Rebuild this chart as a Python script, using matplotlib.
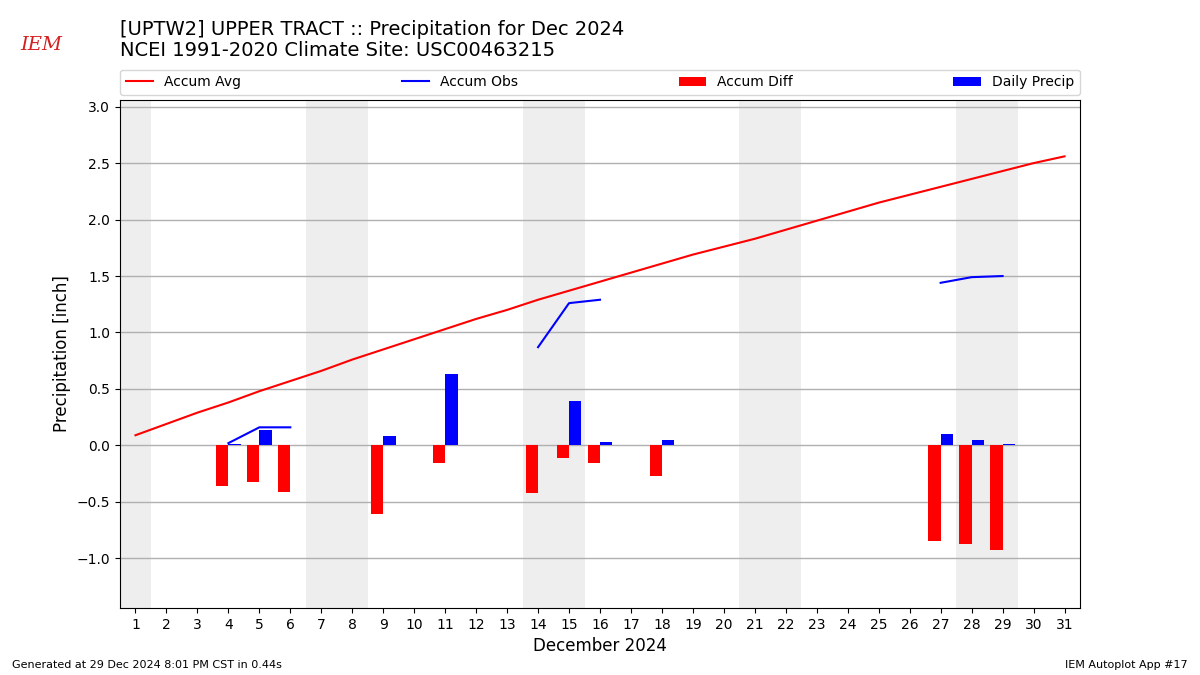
import numpy as np
import matplotlib
matplotlib.use("Agg")
import matplotlib.pyplot as plt

nan = np.nan

# Days of December 2024
days = np.arange(1, 32)

# Climatological accumulated precipitation (inch)
accum_avg = [0.09, 0.19, 0.29, 0.38, 0.48, 0.57, 0.66, 0.76, 0.85, 0.94,
             1.03, 1.12, 1.20, 1.29, 1.37, 1.45, 1.53, 1.61, 1.69, 1.76,
             1.83, 1.91, 1.99, 2.07, 2.15, 2.22, 2.29, 2.36, 2.43, 2.50, 2.56]

# Observed accumulated precipitation, missing days as NaN
accum_obs = [nan, nan, nan, 0.02, 0.16, 0.16, nan, nan, 0.24, nan,
             0.87, nan, nan, 0.87, 1.26, 1.29, nan, 1.34, nan, nan,
             nan, nan, nan, nan, nan, nan, 1.44, 1.49, 1.50, nan, nan]

# Daily precipitation
daily_precip = [nan, nan, nan, 0.01, 0.14, 0.0, nan, nan, 0.08, nan,
                0.63, nan, nan, 0.0, 0.39, 0.03, nan, 0.05, nan, nan,
                nan, nan, nan, nan, nan, nan, 0.105, 0.05, 0.01, nan, nan]

accum_obs = np.array(accum_obs)
accum_avg = np.array(accum_avg)
accum_diff = accum_obs - accum_avg

weekend_starts = [1, 7, 14, 21, 28]
weekend_lens = [1, 2, 2, 2, 2]

fig = plt.figure(figsize=(12, 6.75), dpi=100)
ax = fig.add_axes([0.1, 0.0993, 0.8, 0.7527])

# weekend shading
for s, n in zip(weekend_starts, weekend_lens):
    ax.axvspan(s - 0.5, s - 0.5 + n, color="#eeeeee", zorder=0, lw=0)

ax.plot(days, accum_avg, color="red", lw=1.5, label="Accum Avg", zorder=3)
ax.plot(days, accum_obs, color="blue", lw=1.5, label="Accum Obs", zorder=3)
ax.bar(days - 0.4, accum_diff, width=0.4, align="edge", color="red",
       label="Accum Diff", zorder=2)
ax.bar(days, daily_precip, width=0.4, align="edge", color="blue",
       label="Daily Precip", zorder=2)

ax.set_xlim(0.5, 31.5)
ax.set_ylim(-1.44, 3.06)
ax.set_xticks(days)
ax.set_yticks(np.arange(-1.0, 3.01, 0.5))
ax.grid(axis="y", color="#b0b0b0", lw=1, zorder=1)
ax.set_axisbelow(True)
ax.set_xlabel("December 2024", fontsize=12)
ax.set_ylabel("Precipitation [inch]", fontsize=12)

ax.legend(loc="lower left", bbox_to_anchor=(0, 1.01, 1, 0.05), ncol=4,
          mode="expand", fontsize=10, borderaxespad=0)

fig.text(0.1, 0.97, "[UPTW2] UPPER TRACT :: Precipitation for Dec 2024\n"
         "NCEI 1991-2020 Climate Site: USC00463215",
         fontsize=14, ha="left", va="top", linespacing=1.1)

# IEM logo stand-in
fig.text(0.017, 0.933, "IEM", color="#d42020", fontsize=14,
         family="DejaVu Serif", style="italic", ha="left", va="center")

fig.text(0.01, 0.01, "Generated at 29 Dec 2024 8:01 PM CST in 0.44s", fontsize=8)
fig.text(0.99, 0.01, "IEM Autoplot App #17", fontsize=8, ha="right")

fig.savefig("out.png", dpi=100)
